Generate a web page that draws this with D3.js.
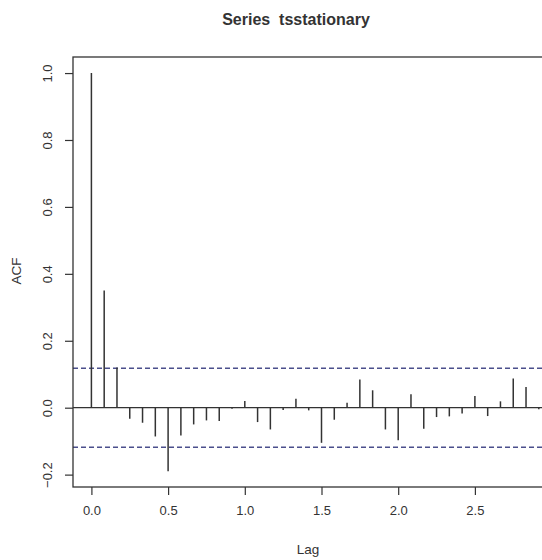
<!DOCTYPE html>
<html>
<head>
<meta charset="utf-8">
<script src="https://cdn.jsdelivr.net/npm/d3@7"></script>
<style>
  body { margin: 0; background: #fff; }
  text { font-family: "Liberation Sans", Arial, sans-serif; fill: #333; }
</style>
</head>
<body>
<div id="root"></div>
<script>
// ACF values, one per monthly lag (lag = k / 12)
const acfValues = [1.0, 0.35, 0.12, -0.033, -0.045, -0.086, -0.19, -0.083, -0.05, -0.038,
  -0.04, -0.003, 0.02, -0.043, -0.065, -0.007, 0.027, -0.008, -0.105, -0.036,
  0.015, 0.084, 0.052, -0.065, -0.097, 0.04, -0.063, -0.028, -0.026, -0.017,
  0.035, -0.025, 0.019, 0.087, 0.062, -0.005];
const confLimit = 0.118;
const xTicks = [0, 0.5, 1, 1.5, 2, 2.5];
const yTicks = [-0.2, 0, 0.2, 0.4, 0.6, 0.8, 1.0];

const W = 542, H = 560;
// plot region (right side runs past the window, as in the reference)
const plot = { left: 73, top: 57, right: 570, bottom: 487 };

const x = d3.scaleLinear().domain([-0.12, 3.12]).range([plot.left, plot.right]);
const y = d3.scaleLinear().domain([-0.237, 1.048]).range([plot.bottom, plot.top]);

const svg = d3.select('#root').append('svg')
  .attr('width', W)
  .attr('height', H);

// title (double space kept, like R's "Series  x")
svg.append('text')
  .attr('x', 296).attr('y', 25)
  .attr('text-anchor', 'middle')
  .style('font-size', '16px')
  .style('font-weight', 'bold')
  .style('white-space', 'pre')
  .text('Series  tsstationary');

// zero line
svg.append('line')
  .attr('x1', plot.left).attr('x2', plot.right)
  .attr('y1', y(0)).attr('y2', y(0))
  .attr('stroke', '#333').attr('stroke-width', 1.3);

// confidence bands
[confLimit, -confLimit].forEach(function (c) {
  svg.append('line')
    .attr('x1', plot.left).attr('x2', plot.right)
    .attr('y1', y(c)).attr('y2', y(c))
    .attr('stroke', '#4b4f8c')
    .attr('stroke-width', 1.4)
    .attr('stroke-dasharray', '5,3');
});

// spikes
svg.selectAll('.spike')
  .data(acfValues)
  .enter()
  .append('line')
  .attr('class', 'spike')
  .attr('x1', function (d, i) { return x(i / 12); })
  .attr('x2', function (d, i) { return x(i / 12); })
  .attr('y1', y(0))
  .attr('y2', function (d) { return y(d); })
  .attr('stroke', '#333')
  .attr('stroke-width', 1.5);

// box
svg.append('rect')
  .attr('x', plot.left).attr('y', plot.top)
  .attr('width', plot.right - plot.left)
  .attr('height', plot.bottom - plot.top)
  .attr('fill', 'none')
  .attr('stroke', '#333')
  .attr('stroke-width', 1.3);

// x axis
const xAxis = d3.axisBottom(x)
  .tickValues(xTicks)
  .tickFormat(d3.format('.1f'))
  .tickSize(8)
  .tickPadding(11);
const gx = svg.append('g')
  .attr('transform', `translate(0, ${plot.bottom})`)
  .call(xAxis);
gx.select('.domain').remove();
gx.selectAll('line').attr('stroke', '#333').attr('stroke-width', 1.2);
gx.selectAll('text').style('font-size', '13px').style('fill', '#333');

// y axis
const yAxis = d3.axisLeft(y)
  .tickValues(yTicks)
  .tickFormat(d3.format('.1f'))
  .tickSize(8);
const gy = svg.append('g')
  .attr('transform', `translate(${plot.left}, 0)`)
  .call(yAxis);
gy.select('.domain').remove();
gy.selectAll('line').attr('stroke', '#333').attr('stroke-width', 1.2);
gy.selectAll('text')
  .attr('x', 0).attr('dy', null)
  .attr('transform', 'translate(-26,0) rotate(-90)')
  .attr('text-anchor', 'middle')
  .attr('dominant-baseline', 'central')
  .style('font-size', '13px')
  .style('fill', '#333');

// axis titles
svg.append('text')
  .attr('x', 308).attr('y', 554)
  .attr('text-anchor', 'middle')
  .style('font-size', '13.5px')
  .text('Lag');

svg.append('text')
  .attr('transform', 'translate(21, 271) rotate(-90)')
  .attr('text-anchor', 'middle')
  .style('font-size', '13.5px')
  .text('ACF');
</script>
</body>
</html>
